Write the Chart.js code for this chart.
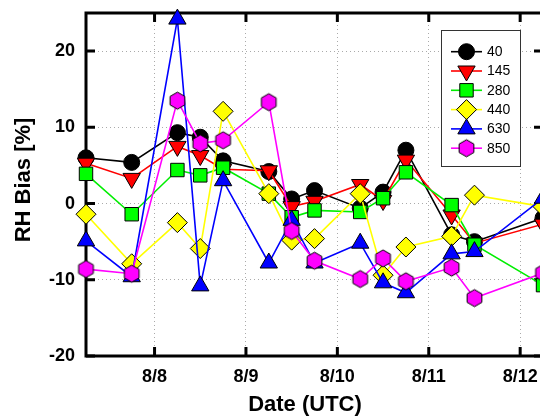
<!DOCTYPE html>
<html>
<head>
<meta charset="utf-8">
<script src="https://cdn.jsdelivr.net/npm/chart.js@4"></script>
<style>
  html, body { margin: 0; padding: 0; background: #fff; overflow: hidden; }
</style>
</head>
<body>
<canvas id="myChart" width="540" height="418"></canvas>
<script>
// sounding times, in days of August (UTC)
const times = [7.25, 7.75, 8.25, 8.5, 8.75, 9.25, 9.5, 9.75, 10.25, 10.5, 10.75, 11.25, 11.5, 12.25];

// RH bias [%] per level
const rh40  = [6.0, 5.4, 9.3, 8.7, 5.6, 4.2, 0.6, 1.7, -0.6, 1.5, 7.0, -4.1, -5.0, -1.9];
const rh145 = [5.3, 3.3, 7.5, 6.3, 4.5, 4.3, -0.4, 0.3, 2.5, 0.4, 5.7, -1.5, -5.2, -2.7];
const rh280 = [3.9, -1.4, 4.4, 3.7, 4.7, 1.3, -1.8, -0.9, -1.1, 0.7, 4.1, -0.2, -5.4, -10.7];
const rh440 = [-1.4, -7.9, -2.5, -5.9, 12.1, 1.3, -4.8, -4.6, 1.3, -9.4, -5.7, -4.3, 1.1, -0.4];
const rh630 = [-4.9, -9.6, 24.2, -10.8, 3.0, -7.8, -2.2, -7.8, -5.2, -10.4, -11.7, -6.6, -6.3, 0.7];
const rh850 = [-8.6, -9.2, 13.5, 7.9, 8.3, 13.3, -3.6, -7.5, -9.9, -7.2, -10.2, -8.4, -12.4, -9.1];

const levels = ['40', '145', '280', '440', '630', '850'];
const values = [rh40, rh145, rh280, rh440, rh630, rh850];
const yTicks = [-20, -10, 0, 10, 20];
const xTicks = [8, 9, 10, 11, 12];
// the original frame runs to 8/12 06Z, a few px past the window edge
const xMin = 7.25, xVisibleMax = 12.217, xFrameMax = 12.25;

// pointy-top hexagon marker
function makeHex(r) {
  const c = document.createElement('canvas');
  c.width = c.height = Math.ceil(2 * r + 4);
  const g = c.getContext('2d');
  const cx = c.width / 2, cy = c.height / 2;
  g.beginPath();
  for (let k = 0; k < 6; k++) {
    const a = (-90 + k * 60) * Math.PI / 180;
    const px = cx + r * Math.cos(a), py = cy + r * Math.sin(a);
    k ? g.lineTo(px, py) : g.moveTo(px, py);
  }
  g.closePath();
  g.fillStyle = '#ff00ff';
  g.fill();
  g.lineWidth = 1;
  g.strokeStyle = '#000';
  g.stroke();
  return c;
}

const styles = [
  { color: '#000000', pointStyle: 'circle', radius: 8, rotation: 0 },
  { color: '#ff0000', pointStyle: 'triangle', radius: 10, rotation: 180 },
  { color: '#00ee00', pointStyle: 'rect', radius: 9.5, rotation: 0 },
  { color: '#ffff00', pointStyle: 'rectRot', radius: 10, rotation: 0 },
  { color: '#0000ff', pointStyle: 'triangle', radius: 10, rotation: 0 },
  { color: '#ff00ff', pointStyle: makeHex(8.5), radius: 9, rotation: 0 }
];

const fillColors = ['#000000', '#ff0000', '#00ff00', '#ffff00', '#0000ff', '#ff00ff'];

const datasets = levels.map((lab, i) => ({
  label: lab,
  data: times.map((t, j) => ({ x: t, y: values[i][j] })),
  borderColor: styles[i].color,
  borderWidth: 1.6,
  tension: 0,
  pointStyle: styles[i].pointStyle,
  pointRadius: styles[i].radius,
  pointRotation: styles[i].rotation,
  pointBackgroundColor: fillColors[i],
  pointBorderColor: '#000',
  pointBorderWidth: 1,
  clip: false,
  order: levels.length - i
}));

const fontFamily = '"Liberation Sans", Arial, sans-serif';

// thick frame, inward ticks and axis titles
const framePlugin = {
  id: 'frame',
  beforeDatasetsDraw(chart) {
    const { ctx, chartArea: a, scales: { x, y } } = chart;
    const right = x.getPixelForValue(xFrameMax);
    ctx.save();
    ctx.strokeStyle = '#000';
    ctx.lineWidth = 3;
    ctx.beginPath();
    xTicks.forEach(v => {
      const px = x.getPixelForValue(v);
      ctx.moveTo(px, a.bottom); ctx.lineTo(px, a.bottom - 9);
      ctx.moveTo(px, a.top); ctx.lineTo(px, a.top + 9);
    });
    yTicks.forEach(v => {
      const py = y.getPixelForValue(v);
      ctx.moveTo(a.left, py); ctx.lineTo(a.left + 9, py);
      ctx.moveTo(right, py); ctx.lineTo(right - 9, py);
    });
    ctx.stroke();
    ctx.strokeRect(a.left, a.top, right - a.left, a.bottom - a.top);

    ctx.fillStyle = '#000';
    ctx.font = 'bold 22px ' + fontFamily;
    ctx.textAlign = 'center';
    ctx.textBaseline = 'middle';
    ctx.fillText('Date (UTC)', 305, 405);
    ctx.translate(24, 180);
    ctx.rotate(-Math.PI / 2);
    ctx.fillText('RH Bias [%]', 0, 0);
    ctx.restore();
  }
};

const legendPlugin = {
  id: 'boxLegend',
  afterDatasetsDraw(chart) {
    const ctx = chart.ctx;
    ctx.save();
    ctx.fillStyle = '#fff';
    ctx.fillRect(441, 30, 80, 137);
    ctx.strokeStyle = '#333';
    ctx.lineWidth = 1;
    ctx.strokeRect(441.5, 30.5, 79, 136);
    levels.forEach((lab, i) => {
      const yy = 51.7 + i * 19.3;
      ctx.strokeStyle = styles[i].color;
      ctx.lineWidth = 1.6;
      ctx.beginPath();
      ctx.moveTo(451, yy); ctx.lineTo(482, yy);
      ctx.stroke();
      ctx.fillStyle = fillColors[i];
      ctx.strokeStyle = '#000';
      ctx.lineWidth = 1;
      Chart.helpers.drawPoint(ctx, {
        pointStyle: styles[i].pointStyle,
        rotation: styles[i].rotation,
        radius: styles[i].radius,
        borderWidth: 1
      }, 466.5, yy);
      ctx.fillStyle = '#000';
      ctx.font = '14px ' + fontFamily;
      ctx.textBaseline = 'middle';
      ctx.textAlign = 'left';
      ctx.fillText(lab, 487, yy + 0.5);
    });
    ctx.restore();
  }
};

const tickFont = { family: fontFamily, size: 18, weight: 'bold' };

const config = {
  type: 'line',
  data: { datasets },
  options: {
    responsive: false,
    animation: false,
    events: [],
    layout: { autoPadding: false, padding: { left: 0, top: 13, right: 0, bottom: 0 } },
    plugins: { legend: { display: false }, tooltip: { enabled: false } },
    scales: {
      x: {
        type: 'linear',
        min: xMin,
        max: xVisibleMax,
        afterBuildTicks: s => { s.ticks = xTicks.map(v => ({ value: v })); },
        afterFit: s => { s.height = 62; s.paddingLeft = 0; s.paddingRight = 0; },
        ticks: {
          color: '#000',
          font: tickFont,
          padding: 10,
          maxRotation: 0,
          autoSkip: false,
          callback: v => '8/' + v
        },
        grid: { color: '#aaa', lineWidth: 1, drawTicks: false },
        border: { display: false, dash: [1, 3] }
      },
      y: {
        min: -20,
        max: 25,
        afterBuildTicks: s => { s.ticks = yTicks.map(v => ({ value: v })); },
        afterFit: s => { s.width = 86; s.paddingTop = 0; s.paddingBottom = 0; },
        ticks: { color: '#000', font: tickFont, padding: 11 },
        grid: { color: '#aaa', lineWidth: 1, drawTicks: false },
        border: { display: false, dash: [1, 3] }
      }
    }
  },
  plugins: [framePlugin, legendPlugin]
};

const myChart = new Chart(document.getElementById('myChart'), config);
</script>
</body>
</html>
